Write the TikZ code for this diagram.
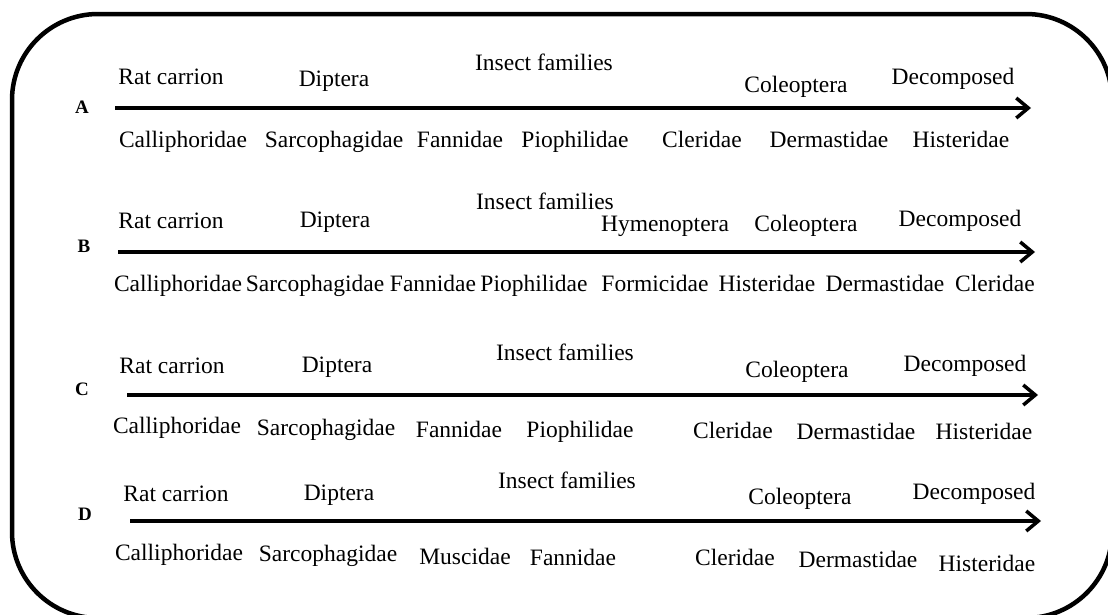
\documentclass[tikz,border=0pt]{standalone}
\usepackage{fontspec}
\setmainfont{Liberation Serif}
\usepackage{tikz}
\usetikzlibrary{arrows.meta}

\begin{document}
\begin{tikzpicture}[
    x=1pt, y=-1pt,
    stage/.style={inner sep=0pt, anchor=base, font=\fontsize{23.5}{28}\selectfont},
    family/.style={inner sep=0pt, anchor=base, font=\fontsize{23.5}{28}\selectfont},
    panel/.style={inner sep=0pt, font=\fontsize{19}{23}\selectfont\bfseries},
    timeline/.style={line width=3.5pt, -{Straight Barb[length=12pt, width=20pt]}},
    frame/.style={line width=4.5pt, rounded corners=86pt}
]
    \useasboundingbox (0,0) rectangle (1108,614);
    \draw[frame] (12,14) rectangle (1112,618);

    % Row A
    \node[panel] (pa) at (82,107) {A};
    \node[stage] (a-rat) at (171,84) {Rat carrion};
    \node[stage] (a-dip) at (334,86) {Diptera};
    \node[stage] (a-ins) at (544,70) {Insect families};
    \node[stage] (a-col) at (796,92) {Coleoptera};
    \node[stage] (a-dec) at (953,84) {Decomposed};
    \coordinate (a0) at (115,108);
    \coordinate (a1) at (1031,108);
    \draw[timeline] (a0) -- (a1);
    \node[family] (a-f1) at (183,147) {Calliphoridae};
    \node[family] (a-f2) at (334,147) {Sarcophagidae};
    \node[family] (a-f3) at (460,147) {Fannidae};
    \node[family] (a-f4) at (575,147) {Piophilidae};
    \node[family] (a-f5) at (702,147) {Cleridae};
    \node[family] (a-f6) at (829,147) {Dermastidae};
    \node[family] (a-f7) at (961,147) {Histeridae};

    % Row B
    \node[panel] (pb) at (84,246) {B};
    \node[stage] (b-rat) at (171,228) {Rat carrion};
    \node[stage] (b-dip) at (335,227) {Diptera};
    \node[stage] (b-ins) at (545,209) {Insect families};
    \node[stage] (b-hym) at (665,231) {Hymenoptera};
    \node[stage] (b-col) at (806,231) {Coleoptera};
    \node[stage] (b-dec) at (960,226) {Decomposed};
    \coordinate (b0) at (118,252);
    \coordinate (b1) at (1035,252);
    \draw[timeline] (b0) -- (b1);
    \node[family] (b-f1) at (178,291) {Calliphoridae};
    \node[family] (b-f2) at (315,291) {Sarcophagidae};
    \node[family] (b-f3) at (433,291) {Fannidae};
    \node[family] (b-f4) at (534,291) {Piophilidae};
    \node[family] (b-f5) at (655,291) {Formicidae};
    \node[family] (b-f6) at (767,291) {Histeridae};
    \node[family] (b-f7) at (885,291) {Dermastidae};
    \node[family] (b-f8) at (995,291) {Cleridae};

    % Row C
    \node[panel] (pc) at (82,389) {C};
    \node[stage] (c-rat) at (172,373) {Rat carrion};
    \node[stage] (c-dip) at (337,372) {Diptera};
    \node[stage] (c-ins) at (565,360) {Insect families};
    \node[stage] (c-col) at (797,377) {Coleoptera};
    \node[stage] (c-dec) at (965,371) {Decomposed};
    \coordinate (c0) at (127,395);
    \coordinate (c1) at (1038,395);
    \draw[timeline] (c0) -- (c1);
    \node[family] (c-f1) at (177,433) {Calliphoridae};
    \node[family] (c-f2) at (326,435) {Sarcophagidae};
    \node[family] (c-f3) at (459,437) {Fannidae};
    \node[family] (c-f4) at (580,437) {Piophilidae};
    \node[family] (c-f5) at (733,438) {Cleridae};
    \node[family] (c-f6) at (856,439) {Dermastidae};
    \node[family] (c-f7) at (984,439) {Histeridae};

    % Row D
    \node[panel] (pd) at (85,514) {D};
    \node[stage] (d-rat) at (176,501) {Rat carrion};
    \node[stage] (d-dip) at (339,500) {Diptera};
    \node[stage] (d-ins) at (567,488) {Insect families};
    \node[stage] (d-col) at (800,504) {Coleoptera};
    \node[stage] (d-dec) at (974,499) {Decomposed};
    \coordinate (d0) at (130,521);
    \coordinate (d1) at (1041,521);
    \draw[timeline] (d0) -- (d1);
    \node[family] (d-f1) at (179,560) {Calliphoridae};
    \node[family] (d-f2) at (328,561) {Sarcophagidae};
    \node[family] (d-f3) at (465,564) {Muscidae};
    \node[family] (d-f4) at (573,565) {Fannidae};
    \node[family] (d-f5) at (735,565) {Cleridae};
    \node[family] (d-f6) at (858,567) {Dermastidae};
    \node[family] (d-f7) at (987,571) {Histeridae};
\end{tikzpicture}
\end{document}
